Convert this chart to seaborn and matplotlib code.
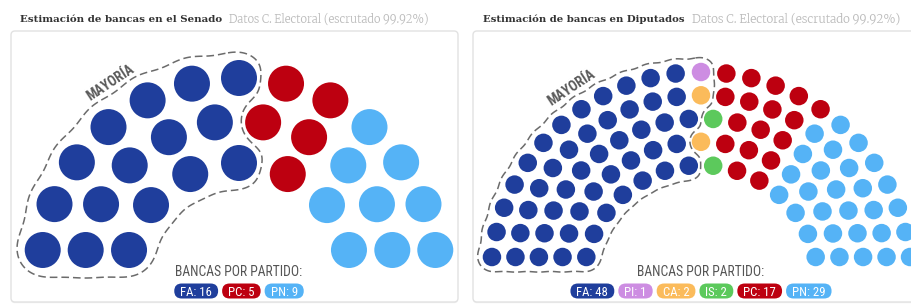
import numpy as np
import pandas as pd
import matplotlib
matplotlib.use("Agg")
import matplotlib.pyplot as plt
import matplotlib.font_manager as fm
from matplotlib.patches import FancyBboxPatch
import seaborn as sns

# ---------------- data ----------------
senado_parties = ["FA", "PC", "PN"]
senado_seats = [16, 5, 9]
diputados_parties = ["FA", "PI", "CA", "IS", "PC", "PN"]
diputados_seats = [48, 1, 2, 2, 17, 29]
party_colors = {"FA": "#1f3e9c", "PI": "#cd8de2", "CA": "#fbbb5b",
                "IS": "#5cc95c", "PC": "#bd0010", "PN": "#55b3f6"}
panel_titles = ["Estimación de bancas en el Senado",
                "Estimación de bancas en Diputados"]
panel_subtitle = "Datos C. Electoral (escrutado 99.92%)"
legend_title = "BANCAS POR PARTIDO:"
majority_label = "MAYORÍA"

# ---------------- style ----------------
sns.set_theme(style="white")
avail = {f.name for f in fm.fontManager.ttflist}
bold_avail = {f.name for f in fm.fontManager.ttflist
              if (f.weight if isinstance(f.weight, int) else 400) >= 600
              or str(f.weight) in ("bold", "heavy", "black", "semibold", "demibold")}


def pick(names, pool):
    for n in names:
        if n in pool:
            return n
    return "DejaVu Sans"


COND = pick(["Roboto Condensed", "Liberation Sans Narrow", "Roboto"], avail)
SERIF_B = pick(["Merriweather", "DejaVu Serif", "Liberation Serif", "Noto Serif"], bold_avail)
SERIF = pick(["Merriweather", "DejaVu Serif", "Liberation Serif"], avail)
plt.rcParams["font.family"] = [COND, "DejaVu Sans"]

W, H = 911, 307
fig = plt.figure(figsize=(W / 100, H / 100), dpi=100)
fig.patch.set_facecolor("white")
ax = fig.add_axes([0, 0, 1, 1])
ax.set_xlim(0, W)
ax.set_ylim(H, 0)
ax.set_autoscale_on(False)
renderer = fig.canvas.get_renderer()


def fit(t, width):
    bb = t.get_window_extent(renderer)
    t.set_fontsize(t.get_fontsize() * width / bb.width)
    return t


def layout(parties, seats, cx, cy, radii, h):
    radii = np.asarray(radii, float)
    total = int(sum(seats))
    a0 = np.arcsin(h / radii)
    arcs = radii * (np.pi - 2 * a0)
    step = arcs.sum() / (total - len(radii))
    raw = arcs / step + 1
    counts = np.floor(raw + 1e-9).astype(int)
    extra = total - counts.sum()
    for i in np.argsort(-(raw - counts), kind="stable")[:extra]:
        counts[i] += 1
    recs = []
    for r, a, k in zip(radii, a0, counts):
        for t in np.linspace(a, np.pi - a, k):
            recs.append((round(float(t), 9), -r, r,
                         cx - r * np.cos(t), cy - r * np.sin(t)))
    recs.sort(key=lambda z: (z[0], z[1]))
    df = pd.DataFrame(recs, columns=["ang", "nr", "r", "x", "y"])
    df["party"] = np.repeat(parties, seats)
    return df, step


def majority_outline(df, n_major, cx, cy, r_out, dot, pad, step):
    sig_p = 0.42 * step
    sig_n = 0.25 * step
    xs = np.arange(cx - r_out - 45, cx + r_out + 45, 1.0)
    ys = np.arange(cy - r_out - 45, cy + 15, 1.0)
    X, Y = np.meshgrid(xs, ys)
    maj = df.iloc[:n_major]
    mino = df.iloc[n_major:]

    def field(px, py):
        f = 0.0
        for x, y in zip(maj.x, maj.y):
            f = f + np.exp(-((px - x) ** 2 + (py - y) ** 2) / (2 * sig_p ** 2))
        for x, y in zip(mino.x, mino.y):
            f = f - np.exp(-((px - x) ** 2 + (py - y) ** 2) / (2 * sig_n ** 2))
        return f

    F = field(X, Y)
    outer = maj[np.isclose(maj.r, r_out)].sort_values("ang")
    k = len(outer) // 2
    t = 0.5 * (outer.ang.iloc[k - 1] + outer.ang.iloc[k])
    D = r_out + dot / 2 + pad
    c = field(cx - D * np.cos(t), cy - D * np.sin(t))
    ax.contour(X, Y, F, levels=[c], colors="#6b6b6b", linewidths=1.1,
               linestyles=[(0, (5, 2.6))], zorder=2)
    return D


panels = [
    dict(parties=senado_parties, seats=senado_seats, title=panel_titles[0],
         card=(11, 31, 447, 271), title_x=20, title_w=205, sub_w=200,
         cx=239, cy=276, radii=[198, 155.5, 113], h=26, dot=36, pad=6.0),
    dict(parties=diputados_parties, seats=diputados_seats, title=panel_titles[1],
         card=(473, 31, 447, 271), title_x=483, title_w=204, sub_w=208,
         cx=701, cy=282.6, radii=[210.6, 187.3, 164.1, 140.8, 117.5], h=25.6,
         dot=18.5, pad=4.0),
]

for p in panels:
    x0, y0, w, hh = p["card"]
    ax.add_patch(FancyBboxPatch((x0, y0 + 1.2), w, hh, boxstyle="round,pad=0,rounding_size=4",
                                fc="#f0f0f0", ec="none", zorder=0))
    ax.add_patch(FancyBboxPatch((x0, y0), w, hh, boxstyle="round,pad=0,rounding_size=4",
                                fc="white", ec="#e2e2e2", lw=1.0, zorder=0.5))

    # titles
    t = ax.text(p["title_x"], 22.5, p["title"], fontfamily=[SERIF_B, "DejaVu Sans"],
                fontweight="bold", color="#333333", fontsize=8, ha="left", va="baseline", zorder=6)
    fit(t, p["title_w"])
    bb = t.get_window_extent(renderer)
    s = ax.text(bb.x1 + 7, 22.5, panel_subtitle, fontfamily=[SERIF, "DejaVu Sans"],
                color="#bcbcbc", fontsize=8, ha="left", va="baseline", zorder=6)
    fit(s, p["sub_w"])

    # seats
    df, step = layout(p["parties"], p["seats"], p["cx"], p["cy"], p["radii"], p["h"])
    n_major = sum(p["seats"]) // 2 + 1
    D = majority_outline(df, n_major, p["cx"], p["cy"], max(p["radii"]), p["dot"], p["pad"], step)
    size_pt = p["dot"] * 0.72
    sns.scatterplot(data=df, x="x", y="y", hue="party", hue_order=p["parties"],
                    palette=party_colors, s=size_pt ** 2, linewidth=0, legend=False,
                    ax=ax, zorder=3)

    # majority label
    ta = np.deg2rad(56.5)
    rt = D + 10
    m = ax.text(p["cx"] - rt * np.cos(ta), p["cy"] - rt * np.sin(ta), majority_label,
                rotation=90 - 56.5, rotation_mode="anchor", ha="center", va="center",
                fontweight="bold", color="#5a5a5a", fontsize=8, zorder=6)
    fit(m, 52)

    # legend
    lt = ax.text(p["cx"], 276.5, legend_title, ha="center", va="baseline",
                 color="#555555", fontsize=9, zorder=6)
    fit(lt, 128)
    pill_fs = lt.get_fontsize() * 0.93
    cap = 0.71 * pill_fs / 0.72
    labels = [f"{pa}: {n}" for pa, n in zip(p["parties"], p["seats"])]
    texts = [ax.text(0, 0, lab, fontsize=pill_fs, color="white", ha="center",
                     va="baseline", zorder=6) for lab in labels]
    widths = [tx.get_window_extent(renderer).width for tx in texts]
    padx, gap, ph, yc = 6.0, 4.0, 15.0, 291.0
    total = sum(wd + 2 * padx for wd in widths) + gap * (len(widths) - 1)
    left = p["cx"] - total / 2
    for tx, wd, pa in zip(texts, widths, p["parties"]):
        pw = wd + 2 * padx
        ax.add_patch(FancyBboxPatch((left, yc - ph / 2), pw, ph,
                                    boxstyle=f"round,pad=0,rounding_size={ph / 2}",
                                    fc=party_colors[pa], ec="none", zorder=5))
        tx.set_position((left + pw / 2, yc + cap / 2))
        left += pw + gap

ax.set_xlim(0, W)
ax.set_ylim(H, 0)
ax.axis("off")
fig.savefig("out.png", dpi=100, facecolor="white")
